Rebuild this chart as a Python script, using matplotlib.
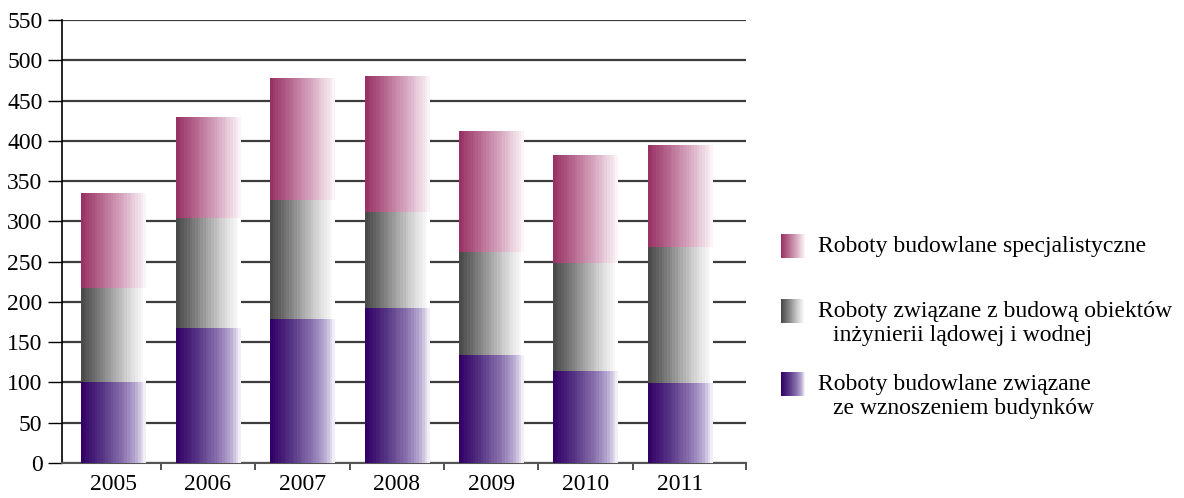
import numpy as np
import matplotlib
matplotlib.use("Agg")
import matplotlib.pyplot as plt
from matplotlib.colors import LinearSegmentedColormap

years = ["2005", "2006", "2007", "2008", "2009", "2010", "2011"]
budynki = [100, 168, 179, 193, 134, 114, 99]        # purple (bottom)
inzynieria = [117, 136, 148, 119, 128, 134, 169]    # gray (middle)
specjalistyczne = [117, 125, 151, 168, 150, 134, 126]  # pink (top)

labels = [
    ("Roboty budowlane specjalistyczne", None),
    ("Roboty związane z budową obiektów", "inżynierii lądowej i wodnej"),
    ("Roboty budowlane związane", "ze wznoszeniem budynków"),
]

plt.rcParams['font.family'] = ['Liberation Serif', 'DejaVu Serif']
FS = 17

cm_purple = LinearSegmentedColormap.from_list("p", [(0, "#330066"), (0.35, "#5a3a88"), (0.65, "#8a72ae"), (0.85, "#b4a5cf"), (1, "#f2eef7")])
cm_gray = LinearSegmentedColormap.from_list("g", [(0, "#4a4a4a"), (0.35, "#8a8a8a"), (0.7, "#cfcfcf"), (1, "#ffffff")])
cm_pink = LinearSegmentedColormap.from_list("k", [(0, "#993366"), (0.35, "#bb7095"), (0.7, "#dcb3c8"), (1, "#fbf3f7")])

grad = np.linspace(0, 1, 24).reshape(1, -1)

fig = plt.figure(figsize=(11.84, 4.98), dpi=100)
ax = fig.add_axes([62/1184, 1-463/498, (746-62)/1184, (463-20)/498])

x = np.arange(len(years))
w = 0.68
bottoms = np.zeros(len(years))
series = [(budynki, cm_purple), (inzynieria, cm_gray), (specjalistyczne, cm_pink)]
for vals, cmap in series:
    bars = ax.bar(x, vals, w, bottom=bottoms, facecolor='none', edgecolor='none', zorder=3)
    for p in bars.patches:
        ax.imshow(grad, cmap=cmap, aspect='auto', interpolation='nearest',
                  extent=(p.get_x(), p.get_x() + p.get_width(), p.get_y(), p.get_y() + p.get_height()),
                  zorder=3)
    bottoms = bottoms + np.array(vals)

xmin, xmax = -0.546, 6.70
ax.set_xlim(xmin, xmax)
ax.set_ylim(0, 550)
ax.set_yticks(np.arange(0, 551, 50))
ax.set_xticks(x)
ax.set_xticklabels(years, fontsize=FS)
ax.tick_params(axis='x', which='major', length=0, pad=8)
ax.set_xticks(list(np.arange(0.5, 6, 1.0)) + [xmax], minor=True)
ax.tick_params(axis='x', which='minor', length=5, width=1.2, color='#333333', direction='out')
ax.tick_params(axis='y', labelsize=FS, length=10, width=1, direction='out', pad=4)
ax.yaxis.grid(True, color='#3c3c3c', linewidth=1.6, zorder=0)
ax.set_axisbelow(True)
for s in ['top', 'right']:
    ax.spines[s].set_visible(False)
ax.spines['left'].set_color('black')
ax.spines['left'].set_linewidth(1.2)
ax.spines['bottom'].set_color('#555555')
ax.spines['bottom'].set_linewidth(1.5)

# Legend overlay
lax = fig.add_axes([0, 0, 1, 1])
lax.set_xlim(0, 1184)
lax.set_ylim(498, 0)
lax.axis('off')
lax.patch.set_alpha(0)
leg = [
    (cm_pink, 246, labels[0]),
    (cm_gray, 311, labels[1]),
    (cm_purple, 384, labels[2]),
]
for cmap, yc, (l1, l2) in leg:
    lax.imshow(grad, cmap=cmap, aspect='auto', interpolation='nearest',
               extent=(781, 805, yc + 12, yc - 12))
    lax.text(818, yc, l1, fontsize=FS, va='center', ha='left')
    if l2:
        lax.text(833, yc + 24, l2, fontsize=FS, va='center', ha='left')
lax.set_xlim(0, 1184)
lax.set_ylim(498, 0)

fig.savefig("out.png", dpi=100)
